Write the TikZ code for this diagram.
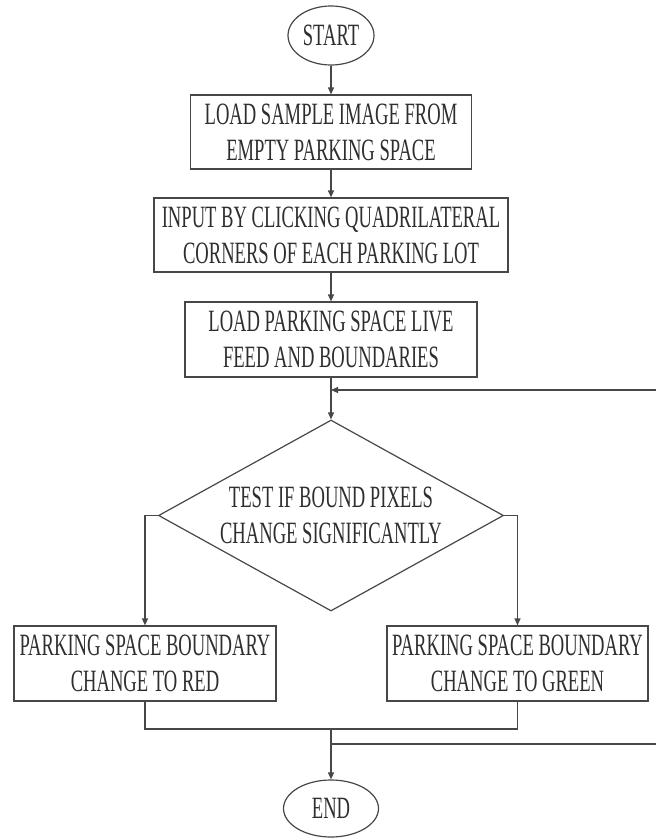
\documentclass[tikz,border=0pt]{standalone}
\usepackage{fontspec}
\setmainfont{Liberation Serif}[FakeStretch=0.6]
\usetikzlibrary{shapes.geometric,arrows.meta}
\definecolor{inkgray}{HTML}{474747}
\definecolor{textgray}{HTML}{2e2e2e}
\tikzset{
	% ------- every something
	every picture/.style={
		x=1pt, y=-1pt,
	},
	every path/.style={
		line width=1.2pt,
	},
	every node/.style={
		font=\fontsize{31}{36}\selectfont,
		text=textgray,
		align=center,
		inner sep=0pt,
	},
	% ------- custom
	process/.style={
		draw, rectangle,
		minimum height=74pt,
	},
	terminal/.style={
		draw, ellipse,
	},
	decision/.style={
		draw, diamond, aspect=1.8,
		minimum width=345pt, minimum height=191pt,
	},
	vector/.style={
		-{Triangle[length=7pt,width=6pt]},
	},
}
\begin{document}
\begin{tikzpicture}[color=inkgray]

% frame %{{{1

	\useasboundingbox (0,0) rectangle (656,838);

% blocks %{{{1

	\node[terminal, minimum width=86pt, minimum height=59pt] (start) at (331,35.5) {START};
	\node[process, minimum width=281pt] (loadimg) at (331,132) {LOAD SAMPLE IMAGE FROM\\EMPTY PARKING SPACE};
	\node[process, minimum width=354pt] (corners) at (331,235) {INPUT BY CLICKING QUADRILATERAL\\CORNERS OF EACH PARKING LOT};
	\node[process, minimum width=292pt, minimum height=75pt] (livefeed) at (331,339.5) {LOAD PARKING SPACE LIVE\\FEED AND BOUNDARIES};
	\node[decision] (test) at (331,515.5) {TEST IF BOUND PIXELS\\CHANGE SIGNIFICANTLY};
	\node[process, minimum width=262pt, minimum height=75pt] (red) at (145,663.5) {PARKING SPACE BOUNDARY\\CHANGE TO RED};
	\node[process, minimum width=261pt, minimum height=75pt] (green) at (517.5,663.5) {PARKING SPACE BOUNDARY\\CHANGE TO GREEN};
	\node[terminal, minimum width=95pt, minimum height=57pt] (end) at (331,808.5) {END};

% joints %{{{1

	\coordinate (feedin) at (656,390);
	\coordinate (feedjoin) at (331,390);
	\coordinate (merge) at (331,729);
	\coordinate (loopjoin) at (331,744);
	\coordinate (loopout) at (656,744);

% connectors %{{{1

	\draw[vector] (start) -- (loadimg);
	\draw[vector] (loadimg) -- (corners);
	\draw[vector] (corners) -- (livefeed);
	\draw[vector] (livefeed) -- (test);
	\draw[vector] (feedin) -- (feedjoin);

	\draw[vector] (test.west) -| (red.north);
	\draw[vector] (test.east) -| (green.north);

	\draw (red.south) |- (merge) -| (green.south);
	\draw[vector] (merge) -- (end);
	\draw (loopjoin) -- (loopout);

% closing %{{{1

\end{tikzpicture}
\end{document}
